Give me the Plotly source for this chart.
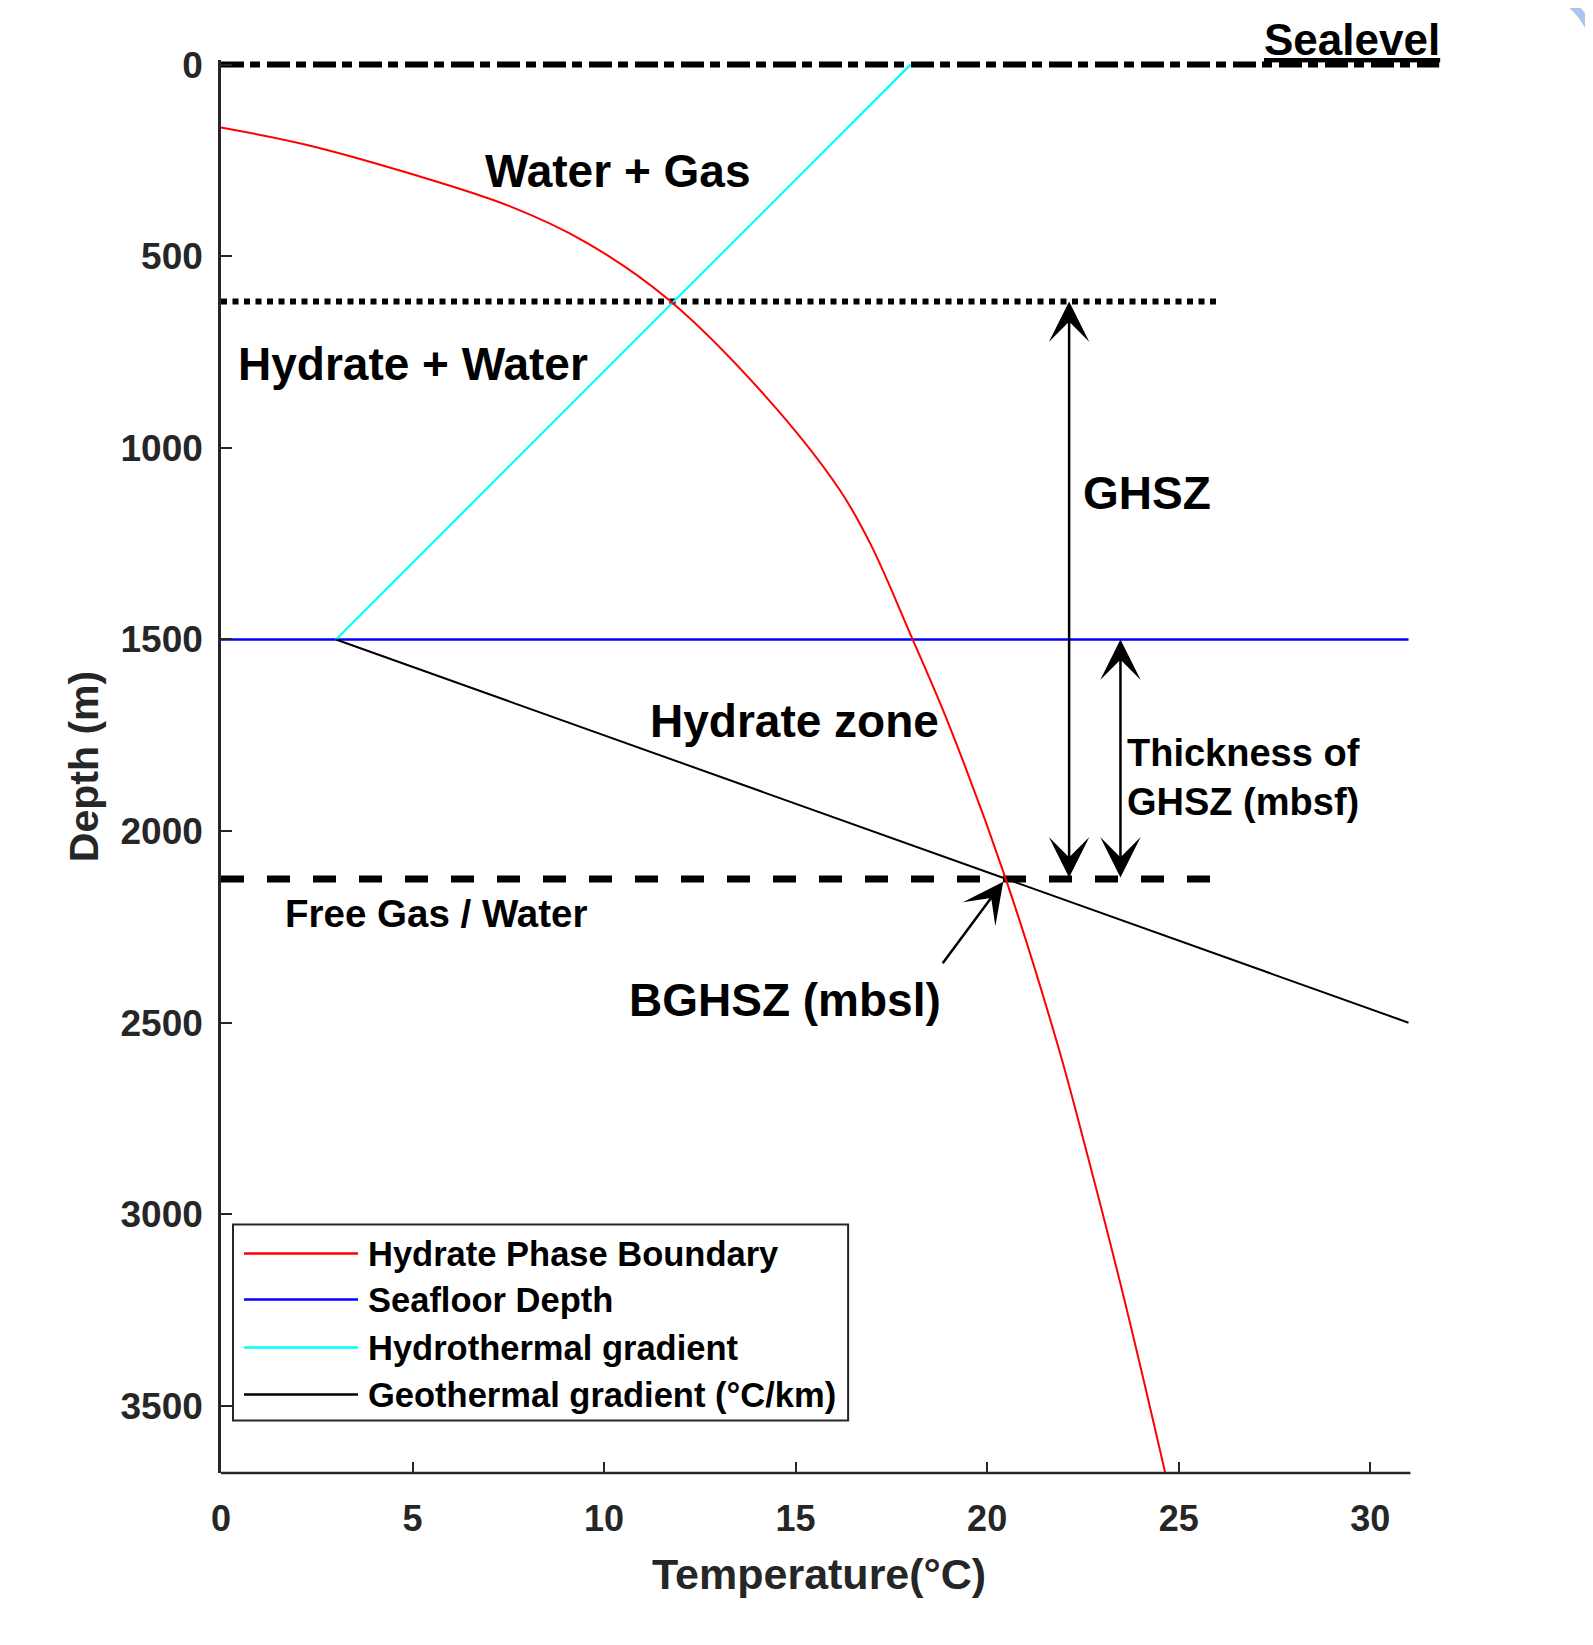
import plotly.graph_objects as go

# ---------------- data ----------------
hpb_temp = [0, 2.22, 4.89, 7.55, 9.55, 11.68, 14.21, 16.14, 16.96, 18.02, 19.0, 20.47, 21.85, 22.58, 23.6, 24.65]
hpb_depth = [164, 209, 283, 370, 465, 613, 865, 1108, 1252, 1492, 1722, 2120, 2561, 2831, 3230, 3675]

seafloor_temp = [0, 31]
seafloor_depth = [1500, 1500]

hydro_temp = [3, 18]
hydro_depth = [1500, 0]

geo_temp = [3, 31]
geo_depth = [1500, 2500]

sealevel_temp = [0, 31.8]
sealevel_depth = [0, 0]

top_ghsz_temp = [0, 26]
top_ghsz_depth = [618, 618]

bghsz_temp = [0, 25.9]
bghsz_depth = [2125, 2125]

series_names = ["Hydrate Phase Boundary", "Seafloor Depth", "Hydrothermal gradient", "Geothermal gradient (°C/km)"]
series_colors = ["#ff0000", "#0000ff", "#00ffff", "#000000"]

x_ticks = [0, 5, 10, 15, 20, 25, 30]
y_ticks = [0, 500, 1000, 1500, 2000, 2500, 3000, 3500]

# region labels: (text, temp, depth, xanchor, size)
region_labels = [
    ("Water + Gas", 10.35, 277, "center", 46),
    ("Hydrate + Water", 0.39, 780, "left", 46),
    ("GHSZ", 22.45, 1117, "left", 46),
    ("Hydrate zone", 14.98, 1714, "center", 46),
    ("Thickness of<br>GHSZ (mbsf)", 23.6, 1860, "left", 38),
    ("Free Gas / Water", 5.6, 2215, "center", 38.5),
    ("BGHSZ (mbsl)", 14.72, 2440, "center", 46),
]

# arrows: (x_head, y_head, x_tail, y_tail)
ghsz_arrow = (22.14, 618, 22.14, 2125)
thick_arrow = (23.48, 1500, 23.48, 2125)
bghsz_arrow = (20.42, 2132, 18.81, 2349)

# ---------------- layout geometry ----------------
PAGE_OFF = 8                      # browser body margin
FW, FH = 1593 - 2 * PAGE_OFF, 1645 - 2 * PAGE_OFF
L, T = 221 - PAGE_OFF, 65 - PAGE_OFF - 4.6
XMAX = 31.9
PX_PER_DEG = 38.3
W = XMAX * PX_PER_DEG
YMIN, YMAX = -12, 3675
H = 1413
R = FW - L - W
B = FH - T - H

FONT = "Liberation Sans"
AX = "#262626"


def px_x(p):
    # page pixel -> paper fraction
    return (p - PAGE_OFF - L) / W


def px_y(p):
    return (T + H - (p - PAGE_OFF)) / H


fig = go.Figure()

fig.add_trace(go.Scatter(x=sealevel_temp, y=sealevel_depth, mode="lines",
                         line=dict(color="black", width=6, dash="23px,6px,10px,7px"), hoverinfo="skip"))
fig.add_trace(go.Scatter(x=top_ghsz_temp, y=top_ghsz_depth, mode="lines",
                         line=dict(color="black", width=6, dash="6px,5.5px"), hoverinfo="skip"))
fig.add_trace(go.Scatter(x=bghsz_temp, y=bghsz_depth, mode="lines",
                         line=dict(color="black", width=7, dash="23px,23px"), hoverinfo="skip"))

fig.add_trace(go.Scatter(x=seafloor_temp, y=seafloor_depth, mode="lines", name=series_names[1],
                         line=dict(color=series_colors[1], width=2.5)))
fig.add_trace(go.Scatter(x=hydro_temp, y=hydro_depth, mode="lines", name=series_names[2],
                         line=dict(color=series_colors[2], width=2.2)))
fig.add_trace(go.Scatter(x=geo_temp, y=geo_depth, mode="lines", name=series_names[3],
                         line=dict(color=series_colors[3], width=2)))
fig.add_trace(go.Scatter(x=hpb_temp, y=hpb_depth, mode="lines", name=series_names[0],
                         line=dict(color=series_colors[0], width=2, shape="spline", smoothing=1.0)))

annotations = []
for text, tx, dy, xa, sz in region_labels:
    annotations.append(dict(x=tx, y=dy, xref="x", yref="y", text=text, showarrow=False,
                            xanchor=xa, yanchor="middle", align="left",
                            font=dict(family=FONT, size=sz, color="black", weight="bold")))

annotations.append(dict(x=px_x(1442), y=px_y(40), xref="paper", yref="paper", text="<u>Sealevel</u>",
                        showarrow=False, xanchor="right", yanchor="middle",
                        font=dict(family=FONT, size=44, color="black", weight="bold")))

# x axis title (centred on the drawn axis 0..31)
annotations.append(dict(x=15.6, y=px_y(1574), xref="x", yref="paper", text="Temperature(°C)",
                        showarrow=False, xanchor="center", yanchor="middle",
                        font=dict(family=FONT, size=43, color=AX, weight="bold")))


def arrow(a, double):
    xh, yh, xt, yt = a
    d = dict(x=xh, y=yh, ax=xt, ay=yt, xref="x", yref="y", axref="x", ayref="y",
             text="", showarrow=True, arrowhead=3, arrowsize=2.7, arrowwidth=2.5,
             arrowcolor="black", standoff=0, startstandoff=0)
    if double:
        d.update(arrowside="end+start", startarrowhead=3, startarrowsize=2.7)
    return d


annotations.append(arrow(ghsz_arrow, True))
annotations.append(arrow(thick_arrow, True))
annotations.append(arrow(bghsz_arrow, False))

shapes = []
# x axis line (ends at 31.05 while plot extends for the sealevel line)
shapes.append(dict(type="line", xref="paper", yref="paper", x0=0, x1=31.05 / XMAX, y0=0, y1=0,
                   line=dict(color=AX, width=2.5)))

# manual legend (long line samples like the original)
shapes.append(dict(type="rect", xref="paper", yref="paper",
                   x0=px_x(233), x1=px_x(848), y0=px_y(1421), y1=px_y(1225),
                   line=dict(color=AX, width=2), fillcolor="white", layer="above"))
rows = [1254, 1300, 1348, 1395]
for name, col, ry in zip(series_names, series_colors, rows):
    shapes.append(dict(type="line", xref="paper", yref="paper",
                       x0=px_x(244), x1=px_x(358), y0=px_y(ry), y1=px_y(ry),
                       line=dict(color=col, width=2.5), layer="above"))
    annotations.append(dict(x=px_x(366), y=px_y(ry), xref="paper", yref="paper", text=name,
                            showarrow=False, xanchor="left", yanchor="middle",
                            font=dict(family=FONT, size=34.5, color="black", weight="bold")))

# light-blue page decoration arc at the top-right corner
shapes.append(dict(type="path", xref="paper", yref="paper",
                   path="M {:.5f} {:.5f} Q {:.5f} {:.5f} {:.5f} {:.5f}".format(
                       px_x(1572), px_y(6), px_x(1580), px_y(12), px_x(1588), px_y(26)),
                   line=dict(color="#a8c6ee", width=8)))

fig.update_layout(
    width=FW, height=FH,
    margin=dict(l=L, r=R, t=T, b=B, autoexpand=False),
    plot_bgcolor="white", paper_bgcolor="white",
    showlegend=False,
    annotations=annotations, shapes=shapes,
    xaxis=dict(range=[0, XMAX], tickvals=x_ticks, ticks="inside", ticklen=11, tickwidth=2,
               tickcolor=AX, showline=False, showgrid=False, zeroline=False, automargin=False,
               ticklabelstandoff=21,
               tickfont=dict(family=FONT, size=36, color=AX, weight="bold")),
    yaxis=dict(range=[YMAX, YMIN], tickvals=y_ticks, ticks="inside", ticklen=11, tickwidth=2,
               tickcolor=AX, showline=True, linewidth=2.5, linecolor=AX, showgrid=False,
               zeroline=False, automargin=False, ticklabelstandoff=8,
               tickfont=dict(family=FONT, size=37, color=AX, weight="bold"),
               title=dict(text="Depth (m)", standoff=10,
                          font=dict(family=FONT, size=41, color=AX, weight="bold"))),
)

fig.write_html("out.html")
